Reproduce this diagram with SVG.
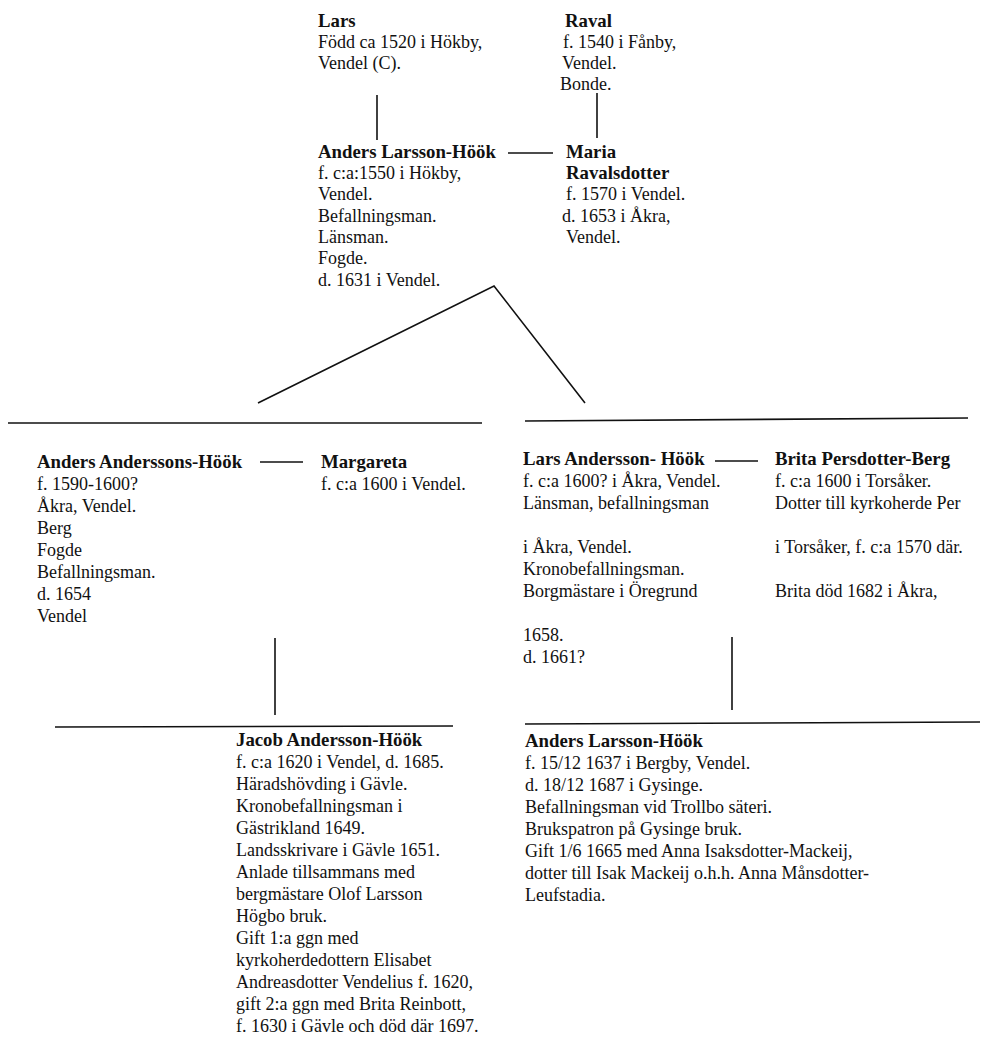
<svg xmlns="http://www.w3.org/2000/svg" width="982" height="1044" viewBox="0 0 982 1044">
<style>
text{font-family:"Liberation Serif","Times New Roman",serif;font-size:18px;fill:#111}
.b{font-weight:bold;font-size:18.8px}
.c line,.c polyline{stroke:#111;stroke-width:1.6;fill:none}
</style>
<rect width="982" height="1044" fill="#fff"/>
<g id="lars">
<text x="318" y="27" class="b">Lars</text>
<text x="318" y="48">Född ca 1520 i Hökby,</text>
<text x="318" y="69">Vendel (C).</text>
</g>
<g id="raval">
<text x="565" y="27" class="b">Raval</text>
<text x="563" y="48">f. 1540 i Fånby,</text>
<text x="562" y="69">Vendel.</text>
<text x="560" y="90">Bonde.</text>
</g>
<g id="anders1">
<text x="318" y="158" class="b">Anders Larsson-Höök</text>
<text x="318" y="179">f. c:a:1550 i Hökby,</text>
<text x="318" y="200">Vendel.</text>
<text x="318" y="222">Befallningsman.</text>
<text x="318" y="243">Länsman.</text>
<text x="318" y="264">Fogde.</text>
<text x="318" y="286">d. 1631 i Vendel.</text>
</g>
<g id="maria">
<text x="566" y="158" class="b">Maria</text>
<text x="566" y="179" class="b">Ravalsdotter</text>
<text x="566" y="200">f. 1570 i Vendel.</text>
<text x="562" y="222">d. 1653 i Åkra,</text>
<text x="566" y="243">Vendel.</text>
</g>
<g id="anders2">
<text x="37" y="468" class="b">Anders Anderssons-Höök</text>
<text x="37" y="490">f. 1590-1600?</text>
<text x="37" y="512">Åkra, Vendel.</text>
<text x="37" y="534">Berg</text>
<text x="37" y="556">Fogde</text>
<text x="37" y="578">Befallningsman.</text>
<text x="37" y="600">d. 1654</text>
<text x="37" y="622">Vendel</text>
</g>
<g id="margareta">
<text x="321" y="468" class="b">Margareta</text>
<text x="321" y="490">f. c:a 1600 i Vendel.</text>
</g>
<g id="lars2">
<text x="523" y="465" class="b">Lars Andersson- Höök</text>
<text x="523" y="487">f. c:a 1600? i Åkra, Vendel.</text>
<text x="523" y="509">Länsman, befallningsman</text>
<text x="523" y="553">i Åkra, Vendel.</text>
<text x="523" y="575">Kronobefallningsman.</text>
<text x="523" y="597">Borgmästare i Öregrund</text>
<text x="523" y="641">1658.</text>
<text x="523" y="663">d. 1661?</text>
</g>
<g id="brita">
<text x="775" y="465" class="b">Brita Persdotter-Berg</text>
<text x="775" y="487">f. c:a 1600 i Torsåker.</text>
<text x="775" y="509">Dotter till kyrkoherde Per</text>
<text x="775" y="553">i Torsåker, f. c:a 1570 där.</text>
<text x="775" y="597">Brita död 1682 i Åkra,</text>
</g>
<g id="jacob">
<text x="236" y="746" class="b">Jacob Andersson-Höök</text>
<text x="236" y="768">f. c:a 1620 i Vendel, d. 1685.</text>
<text x="236" y="790">Häradshövding i Gävle.</text>
<text x="236" y="812">Kronobefallningsman i</text>
<text x="236" y="834">Gästrikland 1649.</text>
<text x="236" y="856">Landsskrivare i Gävle 1651.</text>
<text x="236" y="878">Anlade tillsammans med</text>
<text x="236" y="900">bergmästare Olof Larsson</text>
<text x="236" y="922">Högbo bruk.</text>
<text x="236" y="944">Gift 1:a ggn med</text>
<text x="236" y="966">kyrkoherdedottern Elisabet</text>
<text x="236" y="988">Andreasdotter Vendelius f. 1620,</text>
<text x="236" y="1010">gift 2:a ggn med Brita Reinbott,</text>
<text x="236" y="1032">f. 1630 i Gävle och död där 1697.</text>
</g>
<g id="anders3">
<text x="525" y="747" class="b">Anders Larsson-Höök</text>
<text x="525" y="769">f. 15/12 1637 i Bergby, Vendel.</text>
<text x="525" y="791">d. 18/12 1687 i Gysinge.</text>
<text x="525" y="813">Befallningsman vid Trollbo säteri.</text>
<text x="525" y="835">Brukspatron på Gysinge bruk.</text>
<text x="525" y="857">Gift 1/6 1665 med Anna Isaksdotter-Mackeij,</text>
<text x="525" y="879">dotter till Isak Mackeij o.h.h. Anna Månsdotter-</text>
<text x="525" y="901">Leufstadia.</text>
</g>
<g id="connectors" class="c">
<line x1="377" y1="95" x2="377" y2="140"/>
<line x1="597" y1="93" x2="597" y2="138"/>
<line x1="508" y1="153" x2="553" y2="153"/>
<polyline points="258,403 494,286 585,403"/>
<line x1="8" y1="423" x2="482" y2="423"/>
<line x1="525" y1="421" x2="968" y2="418"/>
<line x1="260" y1="462" x2="303" y2="462"/>
<line x1="715" y1="461" x2="758" y2="461"/>
<line x1="275" y1="638" x2="275" y2="715"/>
<line x1="732" y1="637" x2="732" y2="710"/>
<line x1="55" y1="727" x2="453" y2="726"/>
<line x1="525" y1="724" x2="980" y2="722"/>
</g>
</svg>
